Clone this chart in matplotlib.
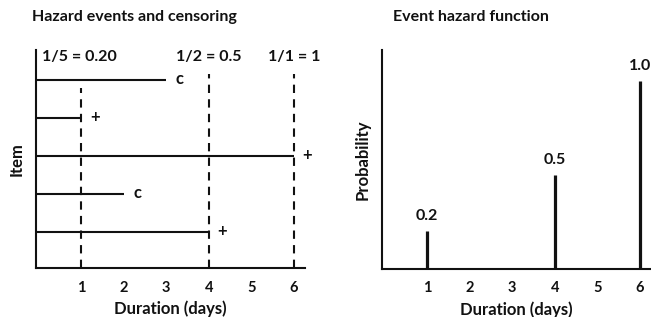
import matplotlib
matplotlib.use("Agg")
import matplotlib.pyplot as plt

plt.rcParams['font.family'] = ['Lato', 'DejaVu Sans']
plt.rcParams['font.weight'] = 'bold'

# Data
items = [5, 4, 3, 2, 1]                 # row positions (top to bottom)
durations = [3, 1, 6, 2, 4]             # end of observation
status = ['c', '+', '+', 'c', '+']      # c = censored, + = event
event_times = [1, 4, 6]
hazard_labels = ['1/5 = 0.20', '1/2 = 0.5', '1/1 = 1']
hazard_values = [0.2, 0.5, 1.0]
hazard_text = ['0.2', '0.5', '1.0']
xticks = [1, 2, 3, 4, 5, 6]

W, H = 651, 317
fig = plt.figure(figsize=(W / 100, H / 100), dpi=100)

def px(x0, y0, x1, y1):
    return [x0 / W, 1 - y1 / H, (x1 - x0) / W, (y1 - y0) / H]

col = '#111111'
lw = 1.5
fs_tick = 10.5
fs_lab = 12
fs_ann = 11.5

# Left panel
ax1 = fig.add_axes(px(36, 50, 305, 268))
ax1.set_xlim(-0.06, 6.26)
ax1.set_ylim(0.05, 5.79)
for y, d, s in zip(items, durations, status):
    ax1.plot([ax1.get_xlim()[0], d], [y, y], color=col, lw=lw, solid_capstyle='butt')
    ax1.text(d + 0.32, y + 0.02, s, ha='center', va='center', fontsize=12, fontweight='bold', color=col)
vtops = [4.8, 5.15, 5.15]
for t, top in zip(event_times, vtops):
    ax1.plot([t, t], [0.05, top], color=col, lw=lw, ls=(0, (4, 3)))
label_x = [0.97, 4.0, 6.0]
for lx, lab in zip(label_x, hazard_labels):
    ax1.text(lx, 5.6, lab, ha='center', va='center', fontsize=fs_ann, fontweight='bold', color=col)
for sp in ['top', 'right']:
    ax1.spines[sp].set_visible(False)
for sp in ['left', 'bottom']:
    ax1.spines[sp].set_linewidth(lw)
    ax1.spines[sp].set_color(col)
ax1.set_xticks(xticks)
ax1.set_xticklabels([str(v) for v in xticks], fontsize=fs_tick, fontweight='bold', color=col)
ax1.set_yticks([])
ax1.tick_params(axis='x', length=0, pad=9)
ax1.set_xlabel('Duration (days)', fontsize=fs_lab, fontweight='bold', color=col, labelpad=4)
ax1.set_ylabel('Item', fontsize=fs_lab, fontweight='bold', color=col, labelpad=8)

# Right panel
ax2 = fig.add_axes(px(382, 50, 651, 269))
ax2.set_xlim(-0.06, 6.26)
ax2.set_ylim(0, 1.165)
ax2.vlines(event_times, 0, hazard_values, color=col, lw=2.3)
for t, v, s in zip(event_times, hazard_values, hazard_text):
    ax2.text(t, v + 0.08, s, ha='center', va='center', fontsize=fs_ann, fontweight='bold', color=col)
for sp in ['top', 'right']:
    ax2.spines[sp].set_visible(False)
for sp in ['left', 'bottom']:
    ax2.spines[sp].set_linewidth(lw)
    ax2.spines[sp].set_color(col)
ax2.set_xticks(xticks)
ax2.set_xticklabels([str(v) for v in xticks], fontsize=fs_tick, fontweight='bold', color=col)
ax2.set_yticks([])
ax2.tick_params(axis='x', length=0, pad=9)
ax2.set_xlabel('Duration (days)', fontsize=fs_lab, fontweight='bold', color=col, labelpad=4)
ax2.set_ylabel('Probability', fontsize=fs_lab, fontweight='bold', color=col, labelpad=8)

fig.text(32 / W, 1 - 17 / H, 'Hazard events and censoring', ha='left', va='center',
         fontsize=11.5, fontweight='bold', color=col)
fig.text(393 / W, 1 - 17 / H, 'Event hazard function', ha='left', va='center',
         fontsize=11.5, fontweight='bold', color=col)

fig.savefig('out.png', dpi=100)
